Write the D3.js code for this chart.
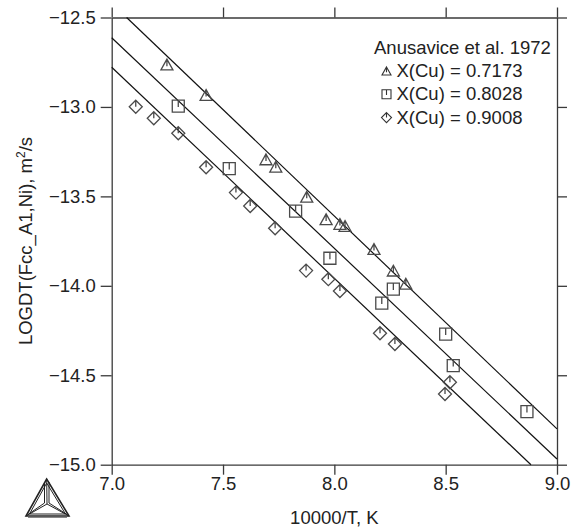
<!DOCTYPE html>
<html>
<head>
<meta charset="utf-8">
<script src="https://cdn.jsdelivr.net/npm/d3@7"></script>
<style>
  body { margin: 0; background: #fff; }
  svg text { font-family: "Liberation Sans", Arial, Helvetica, sans-serif; fill: #222; }
</style>
</head>
<body>
<div id="chart"></div>
<script>
// data (10000/T, log D)
var triX = [7.248, 7.424, 7.693, 7.737, 7.876, 7.963, 8.025, 8.048, 8.178, 8.265, 8.321];
var triY = [-12.763, -12.933, -13.293, -13.334, -13.502, -13.628, -13.654, -13.665, -13.794, -13.915, -13.988];
var sqX = [7.299, 7.528, 7.826, 7.980, 8.265, 8.213, 8.500, 8.534, 8.865];
var sqY = [-12.995, -13.345, -13.582, -13.846, -14.019, -14.097, -14.270, -14.446, -14.703];
var diaX = [7.108, 7.189, 7.299, 7.424, 7.558, 7.622, 7.734, 7.873, 7.973, 8.025, 8.205, 8.272, 8.519, 8.497];
var diaY = [-12.999, -13.063, -13.147, -13.337, -13.479, -13.554, -13.678, -13.915, -13.963, -14.029, -14.265, -14.325, -14.539, -14.605];
// calculated lines, end points inside the frame
var line1 = [[7.067, -12.5], [9.0, -14.800]];
var line2 = [[7.0, -12.613], [9.0, -14.968]];
var line3 = [[7.0, -12.778], [8.883, -15.0]];
var xTicks = [7.0, 7.5, 8.0, 8.5, 9.0];
var yTicks = [-12.5, -13.0, -13.5, -14.0, -14.5, -15.0];
var legendTitle = "Anusavice et al. 1972";
var legendLabels = ["X(Cu) = 0.7173", "X(Cu) = 0.8028", "X(Cu) = 0.9008"];

var W = 577, H = 530;
var FS = '18.5px';
var svg = d3.select('#chart').append('svg').attr('width', W).attr('height', H);

var x = d3.scaleLinear().domain([7, 9]).range([111.7, 557]);
var y = d3.scaleLinear().domain([-12.5, -15]).range([17.5, 464.7]);

var axisColor = '#3a3a3a';
function styleAxis(g) {
    g.selectAll('path, line').attr('stroke', axisColor).attr('stroke-width', 1.3);
    g.selectAll('text').attr('fill', '#222').style('font-size', FS)
        .style('font-family', '"Liberation Sans", Arial, sans-serif');
}

svg.append('g').attr('transform', 'translate(0,' + y(-15) + ')')
    .call(d3.axisBottom(x).tickValues(xTicks).tickFormat(d3.format('.1f')).tickSize(10).tickSizeOuter(0).tickPadding(2))
    .call(styleAxis);
svg.append('g').attr('transform', 'translate(0,' + y(-12.5) + ')')
    .call(d3.axisTop(x).tickValues(xTicks).tickFormat('').tickSize(10).tickSizeOuter(0))
    .call(styleAxis);
svg.append('g').attr('transform', 'translate(' + x(7) + ',0)')
    .call(d3.axisLeft(y).tickValues(yTicks).tickFormat(d3.format('.1f')).tickSize(11).tickSizeOuter(0).tickPadding(5))
    .call(styleAxis);
svg.append('g').attr('transform', 'translate(' + x(9) + ',0)')
    .call(d3.axisRight(y).tickValues(yTicks).tickFormat('').tickSize(10).tickSizeOuter(0))
    .call(styleAxis);

// axis titles
svg.append('text').attr('x', x(8)).attr('y', 524).attr('text-anchor', 'middle')
    .style('font-size', FS).text('10000/T, K');
var yt = svg.append('text').attr('transform', 'translate(32,' + 241 + ') rotate(-90)')
    .attr('text-anchor', 'middle').style('font-size', FS);
yt.append('tspan').text('LOGDT(Fcc_A1,Ni), m');
yt.append('tspan').attr('dy', -7).style('font-size', '12px').text('2');
yt.append('tspan').attr('dy', 7).text('/s');

// lines
var lineGen = d3.line().x(function(d){return x(d[0])}).y(function(d){return y(d[1])});
svg.selectAll('path.fit').data([line1, line2, line3]).enter().append('path')
    .attr('class', 'fit').attr('d', lineGen)
    .attr('fill', 'none').attr('stroke', '#111').attr('stroke-width', 1.2);

// marker shapes with the little vertical tick
function triPath(s) {
    var h = s * 0.9, w = s / 2;
    return 'M0,' + (-h/2) + 'L' + w + ',' + (h/2) + 'L' + (-w) + ',' + (h/2) + 'Z' +
           'M0,' + (-h/2) + 'L0,' + (h * 0.15);
}
function sqPath(s) {
    var a = s / 2;
    return 'M' + (-a) + ',' + (-a) + 'H' + a + 'V' + a + 'H' + (-a) + 'Z' +
           'M0,' + (-a) + 'V' + (a * 0.15);
}
function diaPath(s) {
    var a = s / 2;
    return 'M0,' + (-a) + 'L' + a + ',0L0,' + a + 'L' + (-a) + ',0Z' +
           'M0,' + (-a) + 'V0';
}

var markColor = '#4a4a4a';
function drawSeries(xs, ys, shape, size) {
    svg.append('g').selectAll('path').data(xs.map(function(v, i){return [v, ys[i]]})).enter()
        .append('path')
        .attr('transform', function(d){return 'translate(' + x(d[0]) + ',' + y(d[1]) + ')'})
        .attr('d', shape(size))
        .attr('fill', 'none').attr('stroke', markColor).attr('stroke-width', 1.3);
}
drawSeries(triX, triY, triPath, 12);
drawSeries(sqX, sqY, sqPath, 12);
drawSeries(diaX, diaY, diaPath, 13);

// legend
var lg = svg.append('g');
lg.append('text').attr('x', 374).attr('y', 54).style('font-size', FS).text(legendTitle);
var shapes = [triPath, sqPath, diaPath];
legendLabels.forEach(function(t, i){
    var by = 77 + i * 23.3;
    lg.append('path').attr('transform', 'translate(386.5,' + (by - 6) + ')')
        .attr('d', shapes[i](i === 2 ? 10 : 9))
        .attr('fill', 'none').attr('stroke', '#333').attr('stroke-width', 1.1);
    lg.append('text').attr('x', 396.5).attr('y', by).style('font-size', FS).text(t);
});

// Thermo-Calc logo
var logo = svg.append('g').attr('fill', 'none').attr('stroke', '#222').attr('stroke-width', 1);
var A = [46.7, 479], B = [26, 516], C = [69, 516], M = [47, 504];
logo.append('path').attr('d', 'M' + A + 'L' + B + 'L' + C + 'Z').attr('stroke-width', 1.6);
logo.append('path').attr('d', 'M' + [46.7, 483] + 'L' + [29.5, 514] + 'L' + [65.5, 514] + 'Z');
[A, B, C].forEach(function(p){
    logo.append('line').attr('x1', p[0]).attr('y1', p[1]).attr('x2', M[0]).attr('y2', M[1]);
});
logo.append('path').attr('d', 'M' + [44.5, 482] + 'L' + [44.5, 503] + 'L' + [28, 514.5]);
logo.append('path').attr('d', 'M' + [49, 482] + 'L' + [49, 503] + 'L' + [67, 514.5]);
logo.append('line').attr('x1', 28).attr('y1', 517.5).attr('x2', 67).attr('y2', 517.5).attr('stroke', '#888');
</script>
</body>
</html>
